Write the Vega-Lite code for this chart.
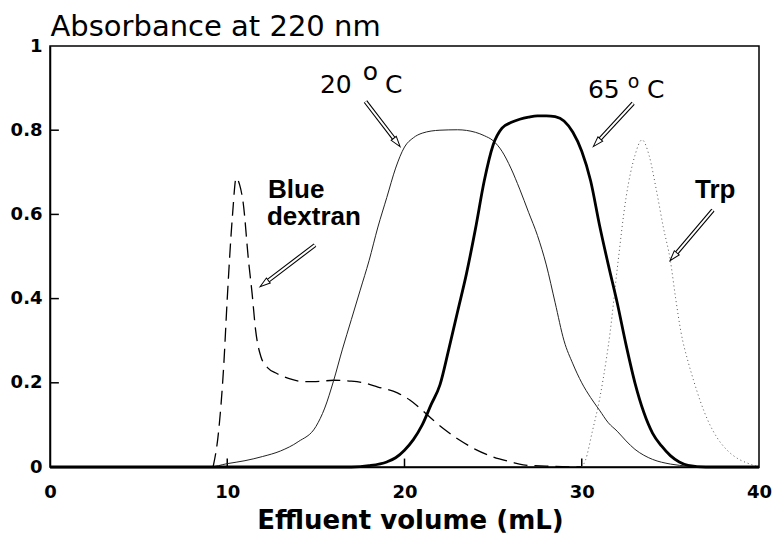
{
  "$schema": "https://vega.github.io/schema/vega-lite/v6.json",
  "width": 709,
  "height": 421,
  "autosize": {"type": "none"},
  "padding": {"left": 50, "top": 46, "right": 14, "bottom": 71},
  "background": "white",
  "config": {
    "view": {"stroke": "black", "strokeWidth": 1.5},
    "axis": {
      "domainColor": "black",
      "domainWidth": 1.5,
      "ticks": false,
      "grid": false,
      "labelFont": "DejaVu Sans",
      "labelFontWeight": "bold",
      "labelFontSize": 18,
      "labelColor": "black",
      "labelFlush": false,
      "labelOverlap": false,
      "titleColor": "black"
    }
  },
  "datasets": {
    "curves": [
      {"volume": 0, "absorbance": 0, "sample": "20 °C"},
      {"volume": 9, "absorbance": 0, "sample": "20 °C"},
      {"volume": 10, "absorbance": 0.008, "sample": "20 °C"},
      {"volume": 11, "absorbance": 0.015, "sample": "20 °C"},
      {"volume": 12, "absorbance": 0.025, "sample": "20 °C"},
      {"volume": 13, "absorbance": 0.038, "sample": "20 °C"},
      {"volume": 14, "absorbance": 0.06, "sample": "20 °C"},
      {"volume": 15, "absorbance": 0.096, "sample": "20 °C"},
      {"volume": 15.5, "absorbance": 0.14, "sample": "20 °C"},
      {"volume": 16, "absorbance": 0.205, "sample": "20 °C"},
      {"volume": 16.5, "absorbance": 0.28, "sample": "20 °C"},
      {"volume": 17, "absorbance": 0.35, "sample": "20 °C"},
      {"volume": 17.5, "absorbance": 0.42, "sample": "20 °C"},
      {"volume": 18, "absorbance": 0.49, "sample": "20 °C"},
      {"volume": 18.5, "absorbance": 0.57, "sample": "20 °C"},
      {"volume": 19, "absorbance": 0.64, "sample": "20 °C"},
      {"volume": 19.5, "absorbance": 0.71, "sample": "20 °C"},
      {"volume": 20, "absorbance": 0.76, "sample": "20 °C"},
      {"volume": 20.5, "absorbance": 0.782, "sample": "20 °C"},
      {"volume": 21, "absorbance": 0.793, "sample": "20 °C"},
      {"volume": 22, "absorbance": 0.8, "sample": "20 °C"},
      {"volume": 23, "absorbance": 0.801, "sample": "20 °C"},
      {"volume": 24, "absorbance": 0.795, "sample": "20 °C"},
      {"volume": 24.5, "absorbance": 0.787, "sample": "20 °C"},
      {"volume": 25, "absorbance": 0.775, "sample": "20 °C"},
      {"volume": 25.5, "absorbance": 0.75, "sample": "20 °C"},
      {"volume": 26, "absorbance": 0.71, "sample": "20 °C"},
      {"volume": 26.5, "absorbance": 0.66, "sample": "20 °C"},
      {"volume": 27, "absorbance": 0.605, "sample": "20 °C"},
      {"volume": 27.5, "absorbance": 0.55, "sample": "20 °C"},
      {"volume": 28, "absorbance": 0.48, "sample": "20 °C"},
      {"volume": 28.5, "absorbance": 0.39, "sample": "20 °C"},
      {"volume": 29, "absorbance": 0.3, "sample": "20 °C"},
      {"volume": 29.5, "absorbance": 0.245, "sample": "20 °C"},
      {"volume": 30, "absorbance": 0.2, "sample": "20 °C"},
      {"volume": 30.5, "absorbance": 0.165, "sample": "20 °C"},
      {"volume": 31, "absorbance": 0.135, "sample": "20 °C"},
      {"volume": 31.5, "absorbance": 0.105, "sample": "20 °C"},
      {"volume": 32, "absorbance": 0.085, "sample": "20 °C"},
      {"volume": 32.5, "absorbance": 0.062, "sample": "20 °C"},
      {"volume": 33, "absorbance": 0.042, "sample": "20 °C"},
      {"volume": 33.5, "absorbance": 0.028, "sample": "20 °C"},
      {"volume": 34, "absorbance": 0.018, "sample": "20 °C"},
      {"volume": 35, "absorbance": 0.007, "sample": "20 °C"},
      {"volume": 36, "absorbance": 0.002, "sample": "20 °C"},
      {"volume": 37, "absorbance": 0, "sample": "20 °C"},
      {"volume": 40, "absorbance": 0, "sample": "20 °C"},

      {"volume": 0, "absorbance": 0, "sample": "65 °C"},
      {"volume": 17, "absorbance": 0, "sample": "65 °C"},
      {"volume": 18, "absorbance": 0.003, "sample": "65 °C"},
      {"volume": 19, "absorbance": 0.012, "sample": "65 °C"},
      {"volume": 19.5, "absorbance": 0.022, "sample": "65 °C"},
      {"volume": 20, "absorbance": 0.04, "sample": "65 °C"},
      {"volume": 20.5, "absorbance": 0.065, "sample": "65 °C"},
      {"volume": 21, "absorbance": 0.1, "sample": "65 °C"},
      {"volume": 21.5, "absorbance": 0.148, "sample": "65 °C"},
      {"volume": 22, "absorbance": 0.195, "sample": "65 °C"},
      {"volume": 22.5, "absorbance": 0.28, "sample": "65 °C"},
      {"volume": 23, "absorbance": 0.37, "sample": "65 °C"},
      {"volume": 23.5, "absorbance": 0.46, "sample": "65 °C"},
      {"volume": 24, "absorbance": 0.565, "sample": "65 °C"},
      {"volume": 24.5, "absorbance": 0.68, "sample": "65 °C"},
      {"volume": 25, "absorbance": 0.765, "sample": "65 °C"},
      {"volume": 25.5, "absorbance": 0.805, "sample": "65 °C"},
      {"volume": 26, "absorbance": 0.818, "sample": "65 °C"},
      {"volume": 26.5, "absorbance": 0.826, "sample": "65 °C"},
      {"volume": 27, "absorbance": 0.831, "sample": "65 °C"},
      {"volume": 27.5, "absorbance": 0.834, "sample": "65 °C"},
      {"volume": 28, "absorbance": 0.834, "sample": "65 °C"},
      {"volume": 28.5, "absorbance": 0.832, "sample": "65 °C"},
      {"volume": 29, "absorbance": 0.822, "sample": "65 °C"},
      {"volume": 29.5, "absorbance": 0.795, "sample": "65 °C"},
      {"volume": 30, "absorbance": 0.75, "sample": "65 °C"},
      {"volume": 30.5, "absorbance": 0.68, "sample": "65 °C"},
      {"volume": 31, "absorbance": 0.575, "sample": "65 °C"},
      {"volume": 31.5, "absorbance": 0.48, "sample": "65 °C"},
      {"volume": 32, "absorbance": 0.39, "sample": "65 °C"},
      {"volume": 32.5, "absorbance": 0.29, "sample": "65 °C"},
      {"volume": 33, "absorbance": 0.2, "sample": "65 °C"},
      {"volume": 33.5, "absorbance": 0.13, "sample": "65 °C"},
      {"volume": 34, "absorbance": 0.08, "sample": "65 °C"},
      {"volume": 34.5, "absorbance": 0.05, "sample": "65 °C"},
      {"volume": 35, "absorbance": 0.027, "sample": "65 °C"},
      {"volume": 35.5, "absorbance": 0.012, "sample": "65 °C"},
      {"volume": 36, "absorbance": 0.004, "sample": "65 °C"},
      {"volume": 37, "absorbance": 0, "sample": "65 °C"},
      {"volume": 40, "absorbance": 0, "sample": "65 °C"},

      {"volume": 30, "absorbance": 0, "sample": "Trp"},
      {"volume": 30.2, "absorbance": 0.015, "sample": "Trp"},
      {"volume": 30.6, "absorbance": 0.085, "sample": "Trp"},
      {"volume": 31, "absorbance": 0.16, "sample": "Trp"},
      {"volume": 31.2, "absorbance": 0.207, "sample": "Trp"},
      {"volume": 31.6, "absorbance": 0.32, "sample": "Trp"},
      {"volume": 32, "absorbance": 0.47, "sample": "Trp"},
      {"volume": 32.5, "absorbance": 0.64, "sample": "Trp"},
      {"volume": 33, "absorbance": 0.74, "sample": "Trp"},
      {"volume": 33.4, "absorbance": 0.777, "sample": "Trp"},
      {"volume": 33.8, "absorbance": 0.74, "sample": "Trp"},
      {"volume": 34.2, "absorbance": 0.66, "sample": "Trp"},
      {"volume": 34.6, "absorbance": 0.57, "sample": "Trp"},
      {"volume": 35, "absorbance": 0.49, "sample": "Trp"},
      {"volume": 35.3, "absorbance": 0.4, "sample": "Trp"},
      {"volume": 35.6, "absorbance": 0.32, "sample": "Trp"},
      {"volume": 36, "absorbance": 0.25, "sample": "Trp"},
      {"volume": 36.3, "absorbance": 0.207, "sample": "Trp"},
      {"volume": 36.7, "absorbance": 0.155, "sample": "Trp"},
      {"volume": 37.1, "absorbance": 0.112, "sample": "Trp"},
      {"volume": 37.6, "absorbance": 0.072, "sample": "Trp"},
      {"volume": 38.2, "absorbance": 0.04, "sample": "Trp"},
      {"volume": 38.8, "absorbance": 0.02, "sample": "Trp"},
      {"volume": 39.3, "absorbance": 0.01, "sample": "Trp"},
      {"volume": 40, "absorbance": 0, "sample": "Trp"},

      {"volume": 9.2, "absorbance": 0, "sample": "Blue dextran"},
      {"volume": 9.5, "absorbance": 0.08, "sample": "Blue dextran"},
      {"volume": 9.8, "absorbance": 0.24, "sample": "Blue dextran"},
      {"volume": 10, "absorbance": 0.4, "sample": "Blue dextran"},
      {"volume": 10.3, "absorbance": 0.6, "sample": "Blue dextran"},
      {"volume": 10.5, "absorbance": 0.686, "sample": "Blue dextran"},
      {"volume": 10.7, "absorbance": 0.67, "sample": "Blue dextran"},
      {"volume": 10.9, "absorbance": 0.627, "sample": "Blue dextran"},
      {"volume": 11.2, "absorbance": 0.49, "sample": "Blue dextran"},
      {"volume": 11.4, "absorbance": 0.413, "sample": "Blue dextran"},
      {"volume": 11.6, "absorbance": 0.325, "sample": "Blue dextran"},
      {"volume": 11.9, "absorbance": 0.262, "sample": "Blue dextran"},
      {"volume": 12.3, "absorbance": 0.235, "sample": "Blue dextran"},
      {"volume": 12.8, "absorbance": 0.222, "sample": "Blue dextran"},
      {"volume": 13.5, "absorbance": 0.21, "sample": "Blue dextran"},
      {"volume": 14.3, "absorbance": 0.203, "sample": "Blue dextran"},
      {"volume": 15, "absorbance": 0.203, "sample": "Blue dextran"},
      {"volume": 16, "absorbance": 0.206, "sample": "Blue dextran"},
      {"volume": 17, "absorbance": 0.204, "sample": "Blue dextran"},
      {"volume": 17.7, "absorbance": 0.2, "sample": "Blue dextran"},
      {"volume": 18.5, "absorbance": 0.19, "sample": "Blue dextran"},
      {"volume": 19.6, "absorbance": 0.176, "sample": "Blue dextran"},
      {"volume": 20.3, "absorbance": 0.159, "sample": "Blue dextran"},
      {"volume": 21, "absorbance": 0.135, "sample": "Blue dextran"},
      {"volume": 21.6, "absorbance": 0.112, "sample": "Blue dextran"},
      {"volume": 22.3, "absorbance": 0.088, "sample": "Blue dextran"},
      {"volume": 23.1, "absorbance": 0.064, "sample": "Blue dextran"},
      {"volume": 24, "absorbance": 0.042, "sample": "Blue dextran"},
      {"volume": 25, "absorbance": 0.024, "sample": "Blue dextran"},
      {"volume": 26, "absorbance": 0.012, "sample": "Blue dextran"},
      {"volume": 26.7, "absorbance": 0.005, "sample": "Blue dextran"},
      {"volume": 28, "absorbance": 0.002, "sample": "Blue dextran"},
      {"volume": 30, "absorbance": 0, "sample": "Blue dextran"}
    ],
    "ticks": [
      {"axis": "x", "at": 10},
      {"axis": "x", "at": 20},
      {"axis": "x", "at": 30},
      {"axis": "y", "at": 0.2},
      {"axis": "y", "at": 0.4},
      {"axis": "y", "at": 0.6},
      {"axis": "y", "at": 0.8}
    ],
    "arrows": [
      {"label": "20 °C", "x_from": 17.8, "y_from": 0.868, "x_base": 19.44, "y_base": 0.778, "x_tip": 19.75, "y_tip": 0.761, "heading": 142.4},
      {"label": "65 °C", "x_from": 32.9, "y_from": 0.864, "x_base": 30.99, "y_base": 0.777, "x_tip": 30.65, "y_tip": 0.761, "heading": 222.6},
      {"label": "Trp", "x_from": 37.4, "y_from": 0.61, "x_base": 35.31, "y_base": 0.506, "x_tip": 34.98, "y_tip": 0.49, "heading": 220.4},
      {"label": "Blue dextran", "x_from": 14.95, "y_from": 0.527, "x_base": 12.26, "y_base": 0.441, "x_tip": 11.85, "y_tip": 0.428, "heading": 232.8}
    ]
  },
  "layer": [
    {
      "data": {"name": "curves"},
      "transform": [{"filter": "datum.sample === 'Blue dextran'"}],
      "mark": {"type": "line", "color": "black", "strokeWidth": 1.3, "strokeDash": [14, 7], "interpolate": "monotone"},
      "encoding": {
        "x": {
          "field": "volume", "type": "quantitative",
          "scale": {"domain": [0, 40], "nice": false, "zero": false},
          "axis": {
            "values": [0, 10, 20, 30, 40],
            "labelPadding": 16,
            "title": "Effluent volume (mL)",
            "titleFont": "DejaVu Sans",
            "titleFontWeight": "bold",
            "titleFontSize": 26,
            "titleAlign": "center",
            "titleBaseline": "alphabetic",
            "titleX": 360,
            "titleY": 61
          }
        },
        "y": {
          "field": "absorbance", "type": "quantitative",
          "scale": {"domain": [0, 1], "nice": false},
          "axis": {
            "values": [0, 0.2, 0.4, 0.6, 0.8, 1],
            "format": "~g",
            "labelPadding": 8,
            "title": "Absorbance at 220 nm",
            "titleFont": "DejaVu Sans",
            "titleFontWeight": "normal",
            "titleFontSize": 29,
            "titleAngle": 0,
            "titleAlign": "left",
            "titleBaseline": "alphabetic",
            "titleX": 0,
            "titleY": -11
          }
        }
      }
    },
    {
      "data": {"name": "ticks"},
      "transform": [{"filter": "datum.axis === 'x'"}],
      "mark": {"type": "rule", "color": "black", "strokeWidth": 1.5},
      "encoding": {
        "x": {"field": "at", "type": "quantitative"},
        "y": {"datum": 0, "type": "quantitative"},
        "y2": {"datum": 0.02}
      }
    },
    {
      "data": {"name": "ticks"},
      "transform": [{"filter": "datum.axis === 'y'"}],
      "mark": {"type": "rule", "color": "black", "strokeWidth": 1.5},
      "encoding": {
        "y": {"field": "at", "type": "quantitative"},
        "x": {"datum": 0, "type": "quantitative"},
        "x2": {"datum": 0.5}
      }
    },
    {
      "data": {"name": "curves"},
      "transform": [{"filter": "datum.sample === '20 °C'"}],
      "mark": {"type": "line", "color": "#222222", "strokeWidth": 1, "interpolate": "monotone"},
      "encoding": {
        "x": {"field": "volume", "type": "quantitative"},
        "y": {"field": "absorbance", "type": "quantitative"}
      }
    },
    {
      "data": {"name": "curves"},
      "transform": [{"filter": "datum.sample === 'Trp'"}],
      "mark": {"type": "line", "color": "#555555", "strokeWidth": 1, "strokeDash": [1, 3], "interpolate": "monotone"},
      "encoding": {
        "x": {"field": "volume", "type": "quantitative"},
        "y": {"field": "absorbance", "type": "quantitative"}
      }
    },
    {
      "data": {"name": "curves"},
      "transform": [{"filter": "datum.sample === '65 °C'"}],
      "mark": {"type": "line", "color": "black", "strokeWidth": 2.8, "interpolate": "monotone"},
      "encoding": {
        "x": {"field": "volume", "type": "quantitative"},
        "y": {"field": "absorbance", "type": "quantitative"}
      }
    },
    {
      "data": {"name": "arrows"},
      "mark": {"type": "rule", "color": "black", "strokeWidth": 4.2, "strokeCap": "butt"},
      "encoding": {
        "x": {"field": "x_from", "type": "quantitative"},
        "y": {"field": "y_from", "type": "quantitative"},
        "x2": {"field": "x_base"},
        "y2": {"field": "y_base"}
      }
    },
    {
      "data": {"name": "arrows"},
      "mark": {"type": "rule", "color": "white", "strokeWidth": 2, "strokeCap": "butt"},
      "encoding": {
        "x": {"field": "x_from", "type": "quantitative"},
        "y": {"field": "y_from", "type": "quantitative"},
        "x2": {"field": "x_base"},
        "y2": {"field": "y_base"}
      }
    },
    {
      "data": {"name": "arrows"},
      "mark": {"type": "point", "shape": "M0,0L0.8,2.6L-0.8,2.6Z", "size": 64, "filled": true, "fill": "white", "stroke": "black", "strokeWidth": 1, "opacity": 1},
      "encoding": {
        "x": {"field": "x_tip", "type": "quantitative"},
        "y": {"field": "y_tip", "type": "quantitative"},
        "angle": {"field": "heading", "type": "quantitative", "scale": null}
      }
    },
    {
      "data": {"values": [
        {"volume": 15.23, "absorbance": 0.888, "text": "20"},
        {"volume": 18.9, "absorbance": 0.888, "text": "C"},
        {"volume": 30.35, "absorbance": 0.8765, "text": "65"},
        {"volume": 33.68, "absorbance": 0.8765, "text": "C"}
      ]},
      "mark": {"type": "text", "font": "DejaVu Sans", "fontSize": 25, "align": "left", "baseline": "alphabetic", "color": "black"},
      "encoding": {
        "x": {"field": "volume", "type": "quantitative"},
        "y": {"field": "absorbance", "type": "quantitative"},
        "text": {"field": "text"}
      }
    },
    {
      "data": {"values": [
        {"volume": 17.65, "absorbance": 0.919, "text": "o"}
      ]},
      "mark": {"type": "text", "font": "DejaVu Sans", "fontSize": 25, "align": "left", "baseline": "alphabetic", "color": "black"},
      "encoding": {
        "x": {"field": "volume", "type": "quantitative"},
        "y": {"field": "absorbance", "type": "quantitative"},
        "text": {"field": "text"}
      }
    },
    {
      "data": {"values": [
        {"volume": 32.6, "absorbance": 0.9, "text": "o"}
      ]},
      "mark": {"type": "text", "font": "DejaVu Sans", "fontSize": 19, "align": "left", "baseline": "alphabetic", "color": "black"},
      "encoding": {
        "x": {"field": "volume", "type": "quantitative"},
        "y": {"field": "absorbance", "type": "quantitative"},
        "text": {"field": "text"}
      }
    },
    {
      "data": {"values": [
        {"volume": 12.3, "absorbance": 0.638, "text": "Blue"},
        {"volume": 12.24, "absorbance": 0.575, "text": "dextran"},
        {"volume": 36.39, "absorbance": 0.638, "text": "Trp"}
      ]},
      "mark": {"type": "text", "font": "Liberation Sans", "fontWeight": "bold", "fontSize": 26, "align": "left", "baseline": "alphabetic", "color": "black"},
      "encoding": {
        "x": {"field": "volume", "type": "quantitative"},
        "y": {"field": "absorbance", "type": "quantitative"},
        "text": {"field": "text"}
      }
    }
  ]
}
